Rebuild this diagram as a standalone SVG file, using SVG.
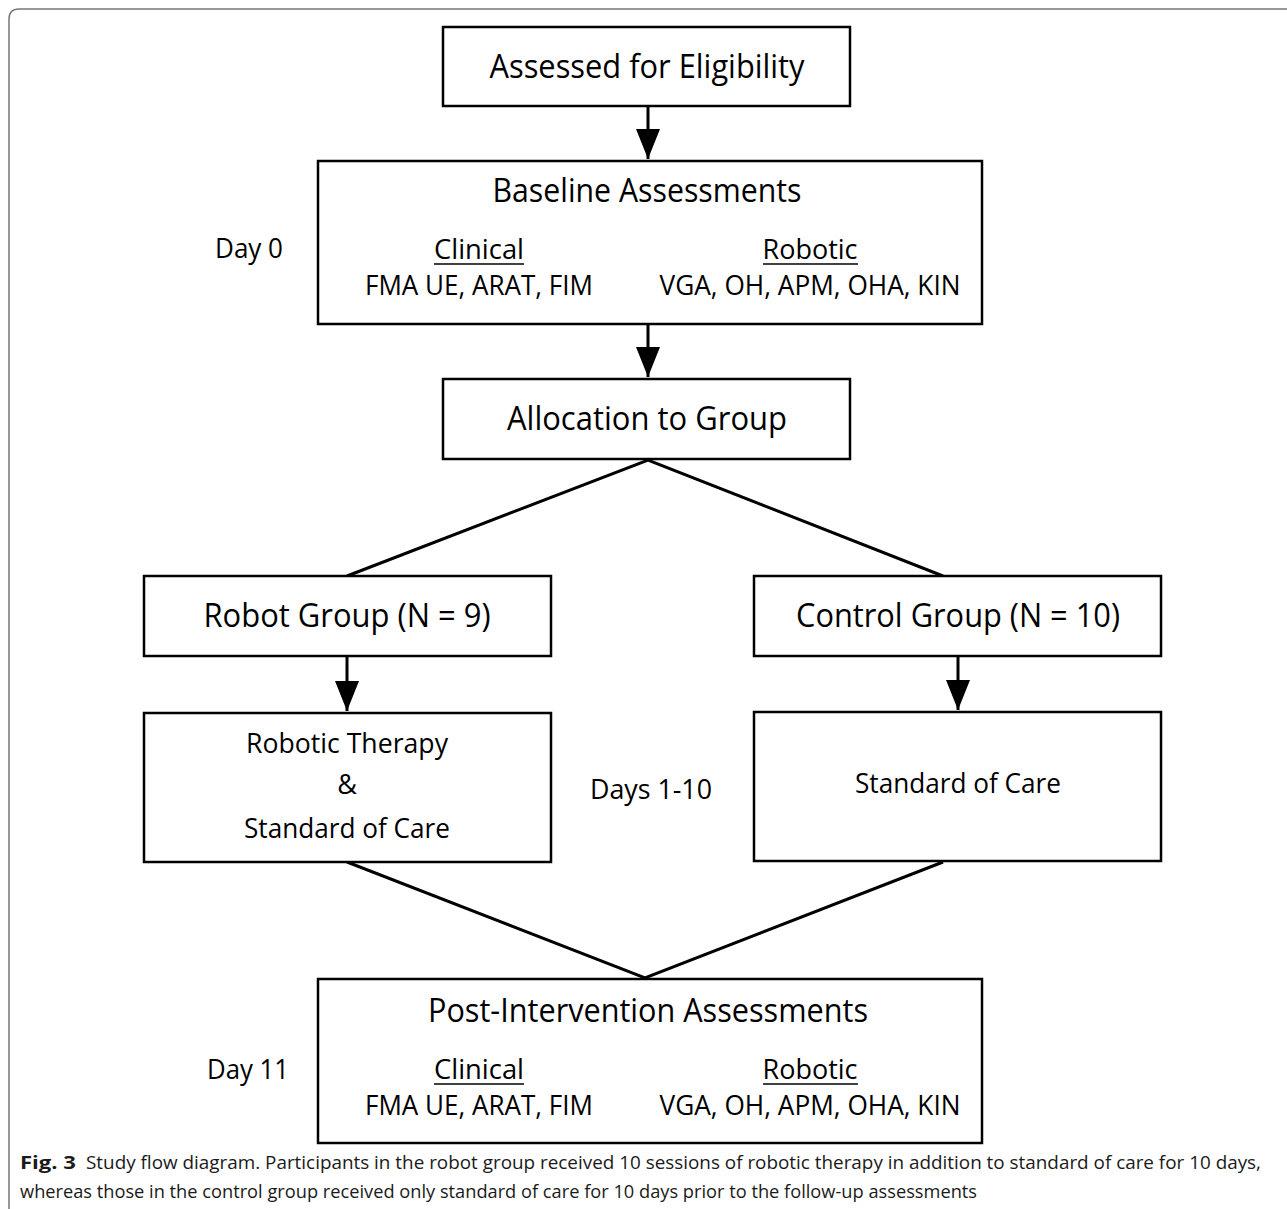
<svg xmlns="http://www.w3.org/2000/svg" width="1287" height="1209" viewBox="0 0 1287 1209">
<style>
.box{fill:#fff;stroke:#000;stroke-width:2.5}
.t{font-family:"Open Sans","Noto Sans",sans-serif;fill:#000;text-anchor:middle}
.h{font-size:32px}
.s{font-size:27px}
.cap{font-family:"Open Sans","Noto Sans",sans-serif;font-size:18px;fill:#1a1a1a}
.ln{stroke:#000;stroke-width:3;fill:none}
.ul{stroke:#000;stroke-width:1.5}
</style>
<defs>
<marker id="ah" markerWidth="10" markerHeight="8" refX="10" refY="4" orient="auto" markerUnits="strokeWidth">
<path d="M0,0 L10,4 L0,8 Z" fill="#000"/>
</marker>
</defs>
<path d="M9,1209 V19 Q9,9 19,9 H1287" fill="none" stroke="#777" stroke-width="1.5"/>
<g id="connectors">
<line class="ln" x1="648" y1="106" x2="648" y2="159" marker-end="url(#ah)"/>
<line class="ln" x1="648" y1="324" x2="648" y2="377" marker-end="url(#ah)"/>
<polyline class="ln" points="347,576 648,460 943,576"/>
<line class="ln" x1="347" y1="656" x2="347" y2="711" marker-end="url(#ah)"/>
<line class="ln" x1="958" y1="656" x2="958" y2="710" marker-end="url(#ah)"/>
<polyline class="ln" points="347,862 645,978 943,862"/>
</g>
<g id="n-assessed">
<rect class="box" x="443" y="27" width="407" height="79"/>
<text class="t h" x="647" y="78" textLength="315" lengthAdjust="spacingAndGlyphs">Assessed for Eligibility</text>
</g>
<g id="n-baseline">
<rect class="box" x="318" y="161" width="664" height="163"/>
<text class="t h" x="647" y="202" textLength="309" lengthAdjust="spacingAndGlyphs">Baseline Assessments</text>
<text class="t s" x="479" y="259" textLength="90" lengthAdjust="spacingAndGlyphs">Clinical</text>
<line class="ul" x1="434" y1="264" x2="524" y2="264"/>
<text class="t s" x="479" y="295" textLength="228" lengthAdjust="spacingAndGlyphs">FMA UE, ARAT, FIM</text>
<text class="t s" x="810" y="259" textLength="95" lengthAdjust="spacingAndGlyphs">Robotic</text>
<line class="ul" x1="763" y1="264" x2="858" y2="264"/>
<text class="t s" x="810" y="295" textLength="301" lengthAdjust="spacingAndGlyphs">VGA, OH, APM, OHA, KIN</text>
</g>
<g id="l-day0"><text class="t s" x="249" y="258" textLength="68" lengthAdjust="spacingAndGlyphs">Day 0</text></g>
<g id="n-allocation">
<rect class="box" x="443" y="379" width="407" height="80"/>
<text class="t h" x="647" y="430" textLength="280" lengthAdjust="spacingAndGlyphs">Allocation to Group</text>
</g>
<g id="n-robot">
<rect class="box" x="144" y="576" width="407" height="80"/>
<text class="t h" x="347" y="627" textLength="287" lengthAdjust="spacingAndGlyphs">Robot Group (N = 9)</text>
</g>
<g id="n-control">
<rect class="box" x="754" y="576" width="407" height="80"/>
<text class="t h" x="958" y="627" textLength="324" lengthAdjust="spacingAndGlyphs">Control Group (N = 10)</text>
</g>
<g id="n-robotic-therapy">
<rect class="box" x="144" y="713" width="407" height="149"/>
<text class="t s" x="347" y="753" textLength="202" lengthAdjust="spacingAndGlyphs">Robotic Therapy</text>
<text class="t s" x="347" y="794">&amp;</text>
<text class="t s" x="347" y="838" textLength="206" lengthAdjust="spacingAndGlyphs">Standard of Care</text>
</g>
<g id="l-days"><text class="t s" x="651" y="799" textLength="122" lengthAdjust="spacingAndGlyphs">Days 1-10</text></g>
<g id="n-standard">
<rect class="box" x="754" y="712" width="407" height="149"/>
<text class="t s" x="958" y="793" textLength="206" lengthAdjust="spacingAndGlyphs">Standard of Care</text>
</g>
<g id="n-post">
<rect class="box" x="318" y="979" width="664" height="164"/>
<text class="t h" x="648" y="1022" textLength="440" lengthAdjust="spacingAndGlyphs">Post-Intervention Assessments</text>
<text class="t s" x="479" y="1079" textLength="90" lengthAdjust="spacingAndGlyphs">Clinical</text>
<line class="ul" x1="434" y1="1084" x2="524" y2="1084"/>
<text class="t s" x="479" y="1115" textLength="228" lengthAdjust="spacingAndGlyphs">FMA UE, ARAT, FIM</text>
<text class="t s" x="810" y="1079" textLength="95" lengthAdjust="spacingAndGlyphs">Robotic</text>
<line class="ul" x1="763" y1="1084" x2="858" y2="1084"/>
<text class="t s" x="810" y="1115" textLength="301" lengthAdjust="spacingAndGlyphs">VGA, OH, APM, OHA, KIN</text>
</g>
<g id="l-day11"><text class="t s" x="248" y="1079" textLength="82" lengthAdjust="spacingAndGlyphs">Day 11</text></g>
<g id="caption">
<text class="cap" x="20" y="1169" font-weight="bold" textLength="56" lengthAdjust="spacingAndGlyphs">Fig. 3</text>
<text class="cap" x="86" y="1169" textLength="1175" lengthAdjust="spacingAndGlyphs">Study flow diagram. Participants in the robot group received 10 sessions of robotic therapy in addition to standard of care for 10 days,</text>
<text class="cap" x="20" y="1198" textLength="957" lengthAdjust="spacingAndGlyphs">whereas those in the control group received only standard of care for 10 days prior to the follow-up assessments</text>
</g>
</svg>
